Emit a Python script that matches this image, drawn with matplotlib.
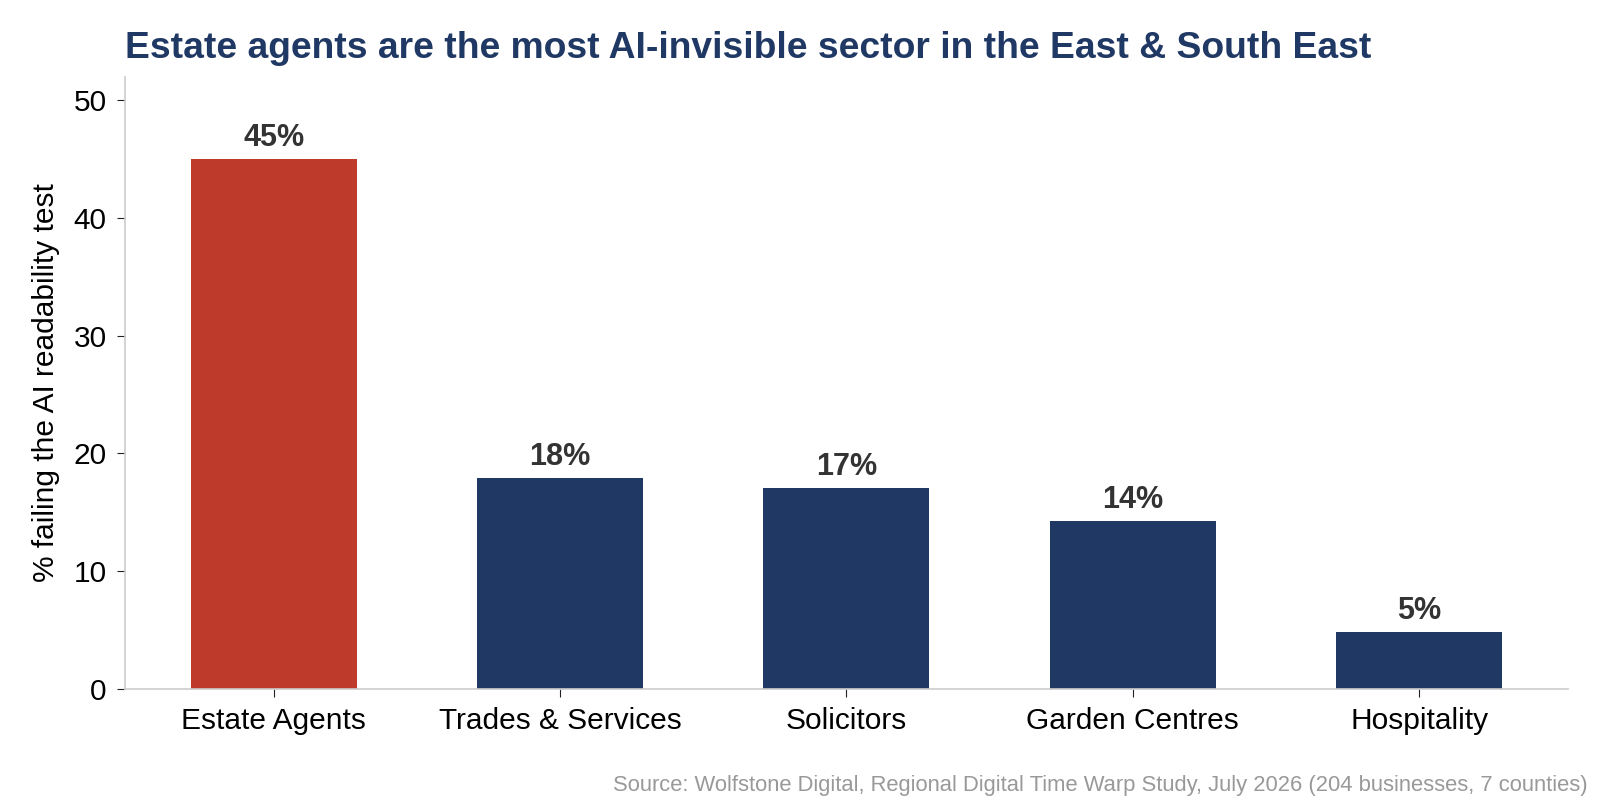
import matplotlib
matplotlib.use("Agg")
import matplotlib.pyplot as plt

# data
sectors = ["Estate Agents", "Trades & Services", "Solicitors", "Garden Centres", "Hospitality"]
fail_pct = [45.0, 17.9, 17.1, 14.3, 4.8]
labels = ["45%", "18%", "17%", "14%", "5%"]

plt.rcParams["font.family"] = ["Liberation Sans", "DejaVu Sans"]

RED = "#BE3A2B"
NAVY = "#203864"
colors = [RED] + [NAVY] * (len(sectors) - 1)

fig = plt.figure(figsize=(16, 8), dpi=100)
ax = fig.add_axes([0.078, 0.139, 0.902, 0.765])

x = range(len(sectors))
bars = ax.bar(x, fail_pct, width=0.58, color=colors)

for b, lab in zip(bars, labels):
    ax.text(b.get_x() + b.get_width() / 2, b.get_height() + 0.5, lab,
            ha="center", va="bottom", fontsize=22, fontweight="bold", color="#333333")

ax.set_xlim(-0.52, 4.52)
ax.set_ylim(0, 52)
ax.set_yticks([0, 10, 20, 30, 40, 50])
ax.set_xticks(list(x))
ax.set_xticklabels(sectors)
ax.tick_params(axis="both", labelsize=21.5, length=6, color="#222222", pad=7)
ax.set_ylabel("% failing the AI readability test", fontsize=21.5, labelpad=10)

for s in ["top", "right"]:
    ax.spines[s].set_visible(False)
for s in ["left", "bottom"]:
    ax.spines[s].set_color("#cccccc")
    ax.spines[s].set_linewidth(1.2)

fig.text(0.078, 0.939, "Estate agents are the most AI-invisible sector in the East & South East",
         fontsize=26.8, fontweight="bold", color=NAVY, ha="left", va="center")
fig.text(0.992, 0.018, "Source: Wolfstone Digital, Regional Digital Time Warp Study, July 2026 (204 businesses, 7 counties)",
         fontsize=15.8, color="#999999", ha="right", va="center")

fig.savefig("out.png", dpi=100)
